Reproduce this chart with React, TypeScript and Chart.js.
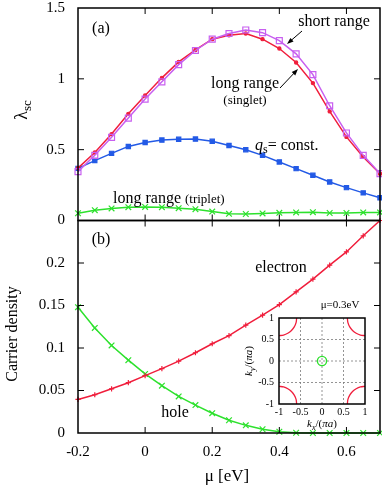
import React, { useEffect, useRef } from 'react';
import { Chart, registerables } from 'chart.js';
Chart.register(...registerables);

// ---------- data ----------
const MU = [-0.2, -0.15, -0.1, -0.05, 0, 0.05, 0.1, 0.15, 0.2, 0.25, 0.3, 0.35, 0.4, 0.45, 0.5, 0.55, 0.6, 0.65, 0.7];
const SHORT_RANGE = [0.345, 0.46, 0.587, 0.723, 0.857, 0.979, 1.1, 1.2, 1.28, 1.32, 1.345, 1.326, 1.27, 1.176, 1.03, 0.81, 0.618, 0.46, 0.331];
const LONG_SINGLET = [0.37, 0.48, 0.61, 0.753, 0.882, 1.007, 1.12, 1.204, 1.28, 1.308, 1.32, 1.28, 1.214, 1.115, 0.97, 0.77, 0.59, 0.449, 0.33];
const QS_CONST = [0.368, 0.423, 0.474, 0.523, 0.551, 0.568, 0.573, 0.575, 0.559, 0.53, 0.5, 0.46, 0.413, 0.366, 0.319, 0.272, 0.232, 0.195, 0.16];
const LONG_TRIPLET = [0.051, 0.073, 0.085, 0.094, 0.096, 0.094, 0.087, 0.08, 0.063, 0.047, 0.046, 0.05, 0.054, 0.057, 0.059, 0.053, 0.053, 0.057, 0.057];
const ELECTRON = [0.0395, 0.045, 0.052, 0.0592, 0.0675, 0.0758, 0.0845, 0.0944, 0.105, 0.1145, 0.127, 0.1386, 0.151, 0.166, 0.181, 0.1975, 0.213, 0.232, 0.25];
const HOLE = [0.148, 0.1236, 0.103, 0.0857, 0.0695, 0.0557, 0.043, 0.0328, 0.0233, 0.015, 0.009, 0.0044, 0.0015, 0.0003, 0, 0, 0, 0, 0];

const X_TICKS = [-0.2, 0, 0.2, 0.4, 0.6];
const LAMBDA_TICKS = [0, 0.5, 1, 1.5];
const DENSITY_TICKS = [0, 0.05, 0.1, 0.15, 0.2];

// inset (Fermi surface at mu = 0.3 eV), k in units of pi/a
const INSET_TICKS = [-1, -0.5, 0, 0.5, 1];
const ARC_KX = [0.59, 0.603, 0.645, 0.71, 0.795, 0.894, 1.0];
const ARC_KY = [1.0, 0.894, 0.795, 0.71, 0.645, 0.603, 0.59];
const POCKET_KX = [0];
const POCKET_KY = [0];
const CORNERS = [[1, 1], [-1, 1], [1, -1], [-1, -1]];

// ---------- styles ----------
const RED = 'rgb(240,30,60)';
const MAGENTA = 'rgb(200,95,240)';
const BLUE = 'rgb(35,90,230)';
const GREEN = 'rgb(45,225,45)';
const SERIF = '"Liberation Serif", "DejaVu Serif", serif';

const pts = (ys: number[]) => MU.map((x, i) => ({ x, y: ys[i] }));
const noPad = (s: any) => { s.paddingTop = 0; s.paddingBottom = 0; s.paddingLeft = 0; s.paddingRight = 0; };

function drawArrow(ctx: CanvasRenderingContext2D, x1: number, y1: number, x2: number, y2: number) {
  const a = Math.atan2(y2 - y1, x2 - x1);
  const h = 7;
  ctx.beginPath();
  ctx.moveTo(x1, y1);
  ctx.lineTo(x2 - Math.cos(a) * 3, y2 - Math.sin(a) * 3);
  ctx.stroke();
  ctx.beginPath();
  ctx.moveTo(x2, y2);
  ctx.lineTo(x2 - h * Math.cos(a - 0.35), y2 - h * Math.sin(a - 0.35));
  ctx.lineTo(x2 - h * Math.cos(a + 0.35), y2 - h * Math.sin(a + 0.35));
  ctx.closePath();
  ctx.fill();
}

const mainPlugin = {
  id: 'mainDecor',
  afterDraw(chart: any) {
    const { ctx } = chart;
    const x = chart.scales.x, ya = chart.scales.ya, yb = chart.scales.yb;
    const L = x.left, R = x.right;
    const TICK = 6;
    ctx.save();
    ctx.strokeStyle = '#000';
    const panels: [any, number[]][] = [[ya, LAMBDA_TICKS], [yb, DENSITY_TICKS]];
    for (const [ys, ticks] of panels) {
      const T = ys.top, B = ys.bottom;
      ctx.lineWidth = 1;
      ctx.beginPath();
      for (const v of X_TICKS) {
        const px = x.getPixelForValue(v);
        if (px <= L + 1 || px >= R - 1) continue;
        ctx.moveTo(px, T); ctx.lineTo(px, T + TICK);
        ctx.moveTo(px, B); ctx.lineTo(px, B - TICK);
      }
      for (const v of ticks) {
        const py = ys.getPixelForValue(v);
        if (py <= T + 1 || py >= B - 1) continue;
        ctx.moveTo(L, py); ctx.lineTo(L + TICK, py);
        ctx.moveTo(R, py); ctx.lineTo(R - TICK, py);
      }
      ctx.stroke();
      ctx.lineWidth = 1.5;
      ctx.strokeRect(L, T, R - L, B - T);
    }

    ctx.fillStyle = '#000';
    const txt = (s: string, px: number, py: number, size: number, align: CanvasTextAlign = 'center', style = '') => {
      ctx.font = `${style} ${size}px ${SERIF}`;
      ctx.textAlign = align;
      ctx.textBaseline = 'middle';
      ctx.fillText(s, px, py);
    };

    // panel labels
    txt('(a)', 101, 29, 16);
    txt('(b)', 101, 240, 16);
    // annotations panel (a)
    txt('short range', 334, 22, 16);
    txt('long range', 245, 84, 16);
    txt('(singlet)', 245, 101, 13);
    ctx.lineWidth = 1;
    drawArrow(ctx, 302, 31, 287, 44);
    drawArrow(ctx, 280, 88, 298, 69);
    // q_s = const.
    {
      let cx = 255;
      const by = 150;
      ctx.textAlign = 'left';
      ctx.textBaseline = 'alphabetic';
      ctx.font = `italic 16px ${SERIF}`;
      ctx.fillText('q', cx, by); cx += ctx.measureText('q').width;
      ctx.font = `12px ${SERIF}`;
      ctx.fillText('s', cx, by + 3); cx += ctx.measureText('s').width;
      ctx.font = `16px ${SERIF}`;
      ctx.fillText('= const.', cx, by);
    }
    // long range (triplet)
    {
      let cx = 113;
      const by = 203;
      ctx.textAlign = 'left';
      ctx.textBaseline = 'alphabetic';
      ctx.font = `16px ${SERIF}`;
      ctx.fillText('long range ', cx, by); cx += ctx.measureText('long range ').width;
      ctx.font = `13px ${SERIF}`;
      ctx.fillText('(triplet)', cx, by);
    }
    // panel (b)
    txt('electron', 281, 268, 16);
    txt('hole', 175, 413, 16);
    // axis titles
    txt('\u03bc [eV]', 227, 477, 17);
    ctx.save();
    ctx.translate(13, 334);
    ctx.rotate(-Math.PI / 2);
    txt('Carrier density', 0, 0, 16);
    ctx.restore();
    ctx.save();
    ctx.translate(22, 110);
    ctx.rotate(-Math.PI / 2);
    ctx.textAlign = 'left';
    ctx.textBaseline = 'alphabetic';
    ctx.font = `18px ${SERIF}`;
    const wl = ctx.measureText('\u03bb').width;
    ctx.font = `13px ${SERIF}`;
    const ws = ctx.measureText('sc').width;
    const start = -(wl + ws) / 2;
    ctx.font = `18px ${SERIF}`;
    ctx.fillText('\u03bb', start, 5);
    ctx.font = `13px ${SERIF}`;
    ctx.fillText('sc', start + wl, 9);
    ctx.restore();
    ctx.restore();
  },
};

const insetPlugin = {
  id: 'insetDecor',
  beforeDatasetsDraw(chart: any) {
    const { ctx, chartArea: a } = chart;
    const x = chart.scales.x, y = chart.scales.y;
    ctx.save();
    ctx.fillStyle = '#fff';
    ctx.fillRect(a.left, a.top, a.right - a.left, a.bottom - a.top);
    ctx.strokeStyle = 'rgb(120,120,120)';
    ctx.lineWidth = 0.8;
    ctx.setLineDash([2, 2]);
    ctx.beginPath();
    for (const v of INSET_TICKS) {
      if (v === -1 || v === 1) continue;
      const px = x.getPixelForValue(v);
      ctx.moveTo(px, a.top); ctx.lineTo(px, a.bottom);
      const py = y.getPixelForValue(v);
      ctx.moveTo(a.left, py); ctx.lineTo(a.right, py);
    }
    ctx.stroke();
    ctx.restore();
  },
  afterDraw(chart: any) {
    const { ctx, chartArea: a } = chart;
    ctx.save();
    ctx.strokeStyle = '#000';
    ctx.lineWidth = 1.5;
    ctx.strokeRect(a.left, a.top, a.right - a.left, a.bottom - a.top);
    ctx.fillStyle = '#000';
    ctx.font = `11px ${SERIF}`;
    ctx.textAlign = 'center';
    ctx.textBaseline = 'middle';
    ctx.fillText('\u03bc=0.3eV', 110, 10);
    const kLabel = (sub: string) => {
      ctx.textAlign = 'left';
      ctx.textBaseline = 'alphabetic';
      ctx.font = `italic 11px ${SERIF}`;
      const w1 = ctx.measureText('k').width;
      ctx.font = `italic 8px ${SERIF}`;
      const w2 = ctx.measureText(sub).width;
      ctx.font = `11px ${SERIF}`;
      const w3 = ctx.measureText('/(').width;
      ctx.font = `italic 11px ${SERIF}`;
      const w4 = ctx.measureText('\u03c0a').width;
      ctx.font = `11px ${SERIF}`;
      const w5 = ctx.measureText(')').width;
      let cx = -(w1 + w2 + w3 + w4 + w5) / 2;
      ctx.font = `italic 11px ${SERIF}`; ctx.fillText('k', cx, 4); cx += w1;
      ctx.font = `italic 8px ${SERIF}`; ctx.fillText(sub, cx, 7); cx += w2;
      ctx.font = `11px ${SERIF}`; ctx.fillText('/(', cx, 4); cx += w3;
      ctx.font = `italic 11px ${SERIF}`; ctx.fillText('\u03c0a', cx, 4); cx += w4;
      ctx.font = `11px ${SERIF}`; ctx.fillText(')', cx, 4);
    };
    ctx.save();
    ctx.translate((a.left + a.right) / 2, 128);
    kLabel('x');
    ctx.restore();
    ctx.save();
    ctx.translate(18, (a.top + a.bottom) / 2);
    ctx.rotate(-Math.PI / 2);
    kLabel('y');
    ctx.restore();
    ctx.restore();
  },
};

export default function App() {
  const mainRef = useRef<HTMLCanvasElement>(null);
  const insetRef = useRef<HTMLCanvasElement>(null);

  useEffect(() => {
    const tickFont = { family: SERIF, size: 15 };
    const line = (label: string, data: number[], color: string, axis: string, style: any, radius: number, filled: boolean) => ({
      label,
      data: pts(data),
      yAxisID: axis,
      borderColor: color,
      backgroundColor: color,
      pointBackgroundColor: filled ? color : 'rgba(0,0,0,0)',
      pointBorderColor: color,
      pointBorderWidth: 1.2,
      pointStyle: style,
      pointRadius: radius,
      borderWidth: 1.5,
      tension: 0,
      fill: false,
      clip: 5,
    });
    const main = new Chart(mainRef.current!, {
      type: 'line',
      data: {
        datasets: [
          line('short range', SHORT_RANGE, MAGENTA, 'ya', 'rect', 4.2, false),
          line('long range (singlet)', LONG_SINGLET, RED, 'ya', 'circle', 1.6, true),
          line('qs = const.', QS_CONST, BLUE, 'ya', 'rect', 3, true),
          line('long range (triplet)', LONG_TRIPLET, GREEN, 'ya', 'crossRot', 4, false),
          line('electron', ELECTRON, RED, 'yb', 'cross', 2.6, false),
          line('hole', HOLE, GREEN, 'yb', 'crossRot', 4, false),
        ] as any,
      },
      options: {
        animation: false,
        responsive: false,
        devicePixelRatio: 1,
        layout: { autoPadding: false, padding: { top: 8, right: 2, left: 0, bottom: 0 } },
        plugins: { legend: { display: false }, tooltip: { enabled: false } },
        scales: {
          x: {
            type: 'linear', min: -0.2, max: 0.7,
            grid: { display: false, drawTicks: false },
            border: { display: false },
            ticks: { font: tickFont, color: '#000', padding: 10, maxRotation: 0, minRotation: 0, autoSkip: false, callback: (v: any) => String(v) },
            afterBuildTicks: (s: any) => { s.ticks = X_TICKS.map((value) => ({ value })); },
            afterFit: (s: any) => { s.height = 54; noPad(s); },
          },
          yb: {
            type: 'linear', position: 'left', stack: 'panels', stackWeight: 1,
            min: 0, max: 0.25,
            grid: { display: false, drawTicks: false },
            border: { display: false },
            ticks: { font: tickFont, color: '#000', padding: 13, autoSkip: false, callback: (v: any) => String(v) },
            afterBuildTicks: (s: any) => { s.ticks = DENSITY_TICKS.map((value) => ({ value })); },
            afterFit: (s: any) => { s.width = 78; noPad(s); },
          },
          ya: {
            type: 'linear', position: 'left', stack: 'panels', stackWeight: 1,
            min: 0, max: 1.5,
            grid: { display: false, drawTicks: false },
            border: { display: false },
            ticks: { font: tickFont, color: '#000', padding: 13, autoSkip: false, callback: (v: any) => String(v) },
            afterBuildTicks: (s: any) => { s.ticks = LAMBDA_TICKS.map((value) => ({ value })); },
            afterFit: (s: any) => { s.width = 78; noPad(s); },
          },
        } as any,
      },
      plugins: [mainPlugin],
    });

    const insetTickFont = { family: SERIF, size: 10 };
    const arcSets = CORNERS.map(([sx, sy]) => ({
      data: ARC_KX.map((kx, i) => ({ x: sx * kx, y: sy * ARC_KY[i] })),
      borderColor: RED,
      borderWidth: 1.3,
      pointRadius: 0,
      tension: 0.4,
      fill: false,
    }));
    const inset = new Chart(insetRef.current!, {
      type: 'line',
      data: {
        datasets: [
          ...arcSets,
          {
            data: POCKET_KX.map((kx, i) => ({ x: kx, y: POCKET_KY[i] })),
            borderColor: GREEN,
            pointBorderColor: GREEN,
            pointBackgroundColor: 'rgba(0,0,0,0)',
            pointStyle: 'circle',
            pointRadius: 4.6,
            pointBorderWidth: 1.4,
            showLine: false,
          },
        ] as any,
      },
      options: {
        animation: false,
        responsive: false,
        devicePixelRatio: 1,
        layout: { autoPadding: false, padding: { top: 23, right: 10, left: 0, bottom: 0 } },
        plugins: { legend: { display: false }, tooltip: { enabled: false } },
        scales: {
          x: {
            type: 'linear', min: -1, max: 1,
            grid: { display: false, drawTicks: false },
            border: { display: false },
            ticks: { font: insetTickFont, color: '#000', padding: 2, maxRotation: 0, minRotation: 0, autoSkip: false, callback: (v: any) => String(v) },
            afterBuildTicks: (s: any) => { s.ticks = INSET_TICKS.map((value) => ({ value })); },
            afterFit: (s: any) => { s.height = 31; noPad(s); },
          },
          y: {
            type: 'linear', min: -1, max: 1,
            grid: { display: false, drawTicks: false },
            border: { display: false },
            ticks: { font: insetTickFont, color: '#000', padding: 5, autoSkip: false, callback: (v: any) => String(v) },
            afterBuildTicks: (s: any) => { s.ticks = INSET_TICKS.map((value) => ({ value })); },
            afterFit: (s: any) => { s.width = 49; noPad(s); },
          },
        } as any,
      },
      plugins: [insetPlugin],
    });

    return () => { main.destroy(); inset.destroy(); };
  }, []);

  return (
    <div style={{ position: 'fixed', left: 0, top: 0, width: 382, height: 487, background: '#fff' }}>
      <canvas ref={mainRef} width={382} height={487} style={{ position: 'absolute', left: 0, top: 0 }} />
      <canvas ref={insetRef} width={145} height={140} style={{ position: 'absolute', left: 230, top: 295 }} />
    </div>
  );
}
